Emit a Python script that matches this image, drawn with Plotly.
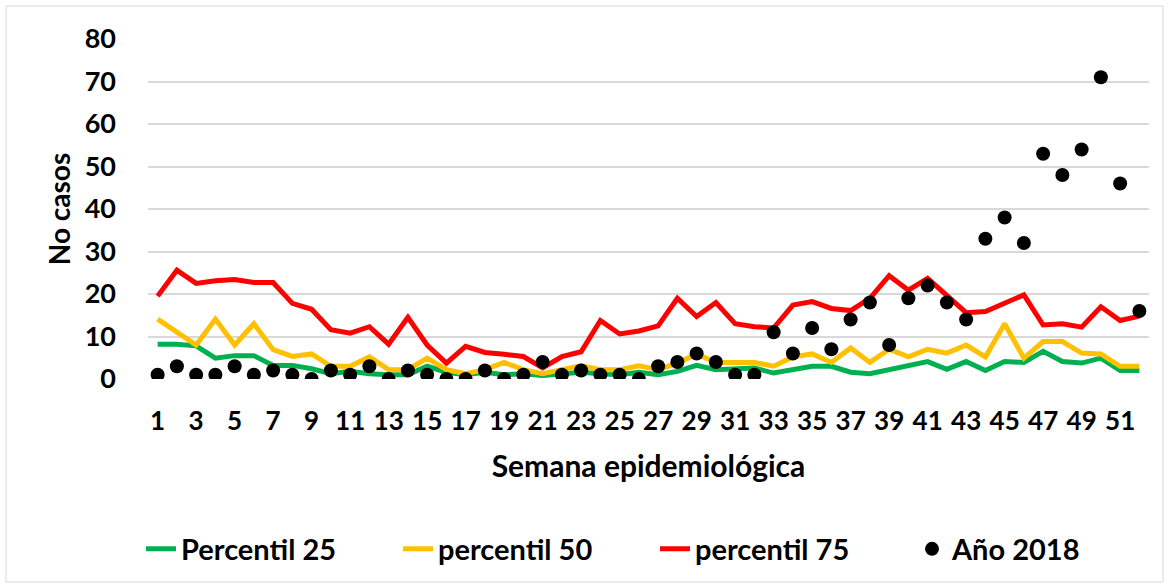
import plotly.graph_objects as go

weeks = [1, 2, 3, 4, 5, 6, 7, 8, 9, 10, 11, 12, 13, 14, 15, 16, 17, 18, 19, 20,
         21, 22, 23, 24, 25, 26, 27, 28, 29, 30, 31, 32, 33, 34, 35, 36, 37, 38, 39, 40,
         41, 42, 43, 44, 45, 46, 47, 48, 49, 50, 51, 52]

p25 = [8.2, 8.2, 7.8, 4.9, 5.5, 5.5, 3.2, 3.2, 2.4, 1.25, 1.8, 1.25, 1.0, 1.0, 3.0, 1.6,
       1.0, 1.6, 1.0, 1.25, 0.8, 1.25, 1.6, 1.25, 1.0, 1.6, 1.0, 1.8, 3.2, 2.2, 2.3, 2.6,
       1.4, 2.3, 3.0, 3.0, 1.6, 1.25, 2.2, 3.1, 4.1, 2.3, 4.1, 2.0, 4.1, 3.9, 6.5, 4.1,
       3.75, 4.9, 2.0, 2.0]

p50 = [14.1, 10.9, 8.0, 14.1, 8.0, 13.0, 6.9, 5.3, 5.9, 3.0, 3.0, 5.2, 2.2, 2.2, 4.9, 2.2,
       1.25, 2.2, 3.9, 2.2, 1.25, 2.2, 3.1, 2.2, 2.2, 3.1, 2.2, 3.75, 5.9, 3.9, 3.9, 3.9,
       3.0, 5.2, 5.9, 3.9, 7.3, 3.9, 7.0, 5.2, 7.0, 6.1, 8.0, 5.2, 13.0, 4.9, 8.8, 8.8,
       6.1, 5.9, 3.0, 3.0]

p75 = [19.5, 25.6, 22.5, 23.1, 23.4, 22.7, 22.7, 17.8, 16.4, 11.6, 10.8, 12.3, 8.2, 14.5,
       8.0, 3.75, 7.7, 6.25, 5.8, 5.3, 2.6, 5.3, 6.4, 13.75, 10.6, 11.3, 12.5, 19.0, 14.7,
       18.0, 13.0, 12.3, 12.0, 17.4, 18.2, 16.6, 16.1, 19.0, 24.3, 20.9, 23.7, 19.8, 15.6,
       15.9, 17.8, 19.8, 12.7, 13.0, 12.2, 17.0, 13.75, 14.8]

cases_2018 = [1, 3, 1, 1, 3, 1, 2, 1, 0, 2, 1, 3, 0, 2, 1, 0, 0, 2, 0, 1, 4, 1, 2, 1, 1, 0,
              3, 4, 6, 4, 1, 1, 11, 6, 12, 7, 14, 18, 8, 19, 22, 18, 14, 33, 38, 32, 53, 48,
              54, 71, 46, 16]

x_ticks = [1, 3, 5, 7, 9, 11, 13, 15, 17, 19, 21, 23, 25, 27, 29, 31, 33, 35, 37, 39,
           41, 43, 45, 47, 49, 51]
y_ticks = [0, 10, 20, 30, 40, 50, 60, 70, 80]

names = ["Percentil 25", "percentil 50", "percentil 75", "Año 2018"]
colors = ["#00B050", "#FFC000", "#FF0000", "#000000"]

FONT = "Lato"
W, H = 1174, 586
ML, MR, MT, MB = 148, 25, 39, 207
PW = W - ML - MR
PH = H - MT - MB


def px_x(px):
    return (px - ML) / PW


def px_y(py):
    return (H - MB - py) / PH


fig = go.Figure()
for vals, name, col in zip([p25, p50, p75], names[:3], colors[:3]):
    fig.add_trace(go.Scatter(x=weeks, y=vals, mode="lines", name=name,
                             line=dict(color=col, width=5)))
fig.add_trace(go.Scatter(x=weeks, y=cases_2018, mode="markers", name=names[3],
                         marker=dict(color=colors[3], size=14, line=dict(width=0))))

fig.update_layout(
    width=W, height=H,
    margin=dict(l=ML, r=MR, t=MT, b=MB, pad=0),
    paper_bgcolor="white", plot_bgcolor="white",
    font=dict(family=FONT, color="black"),
    showlegend=True,
    legend=dict(orientation="h", x=px_x(141), y=px_y(549), xanchor="left", yanchor="middle",
                entrywidth=212, entrywidthmode="pixels", traceorder="normal",
                font=dict(family=FONT, size=29, weight="bold", color="black"),
                bgcolor="rgba(0,0,0,0)"),
    xaxis=dict(range=[0.5, 52.5], tickvals=x_ticks, ticktext=[str(v) for v in x_ticks],
               showgrid=False, zeroline=False, showline=False, ticks="",
               ticklabelstandoff=24,
               tickfont=dict(family=FONT, size=26, weight="bold", color="black"),
               title=dict(text="Semana epidemiológica", standoff=20,
                          font=dict(family=FONT, size=30, weight="bold", color="black"))),
    yaxis=dict(range=[0, 80], tickvals=y_ticks, showgrid=True, gridcolor="#d9d9d9",
               gridwidth=1.5, zeroline=False, showline=False, ticks="",
               ticklabelstandoff=31,
               tickfont=dict(family=FONT, size=27, weight="bold", color="black"),
               title=dict(text="No casos", standoff=5,
                          font=dict(family=FONT, size=28, weight="bold", color="black"))),
    shapes=[dict(type="rect", xref="paper", yref="paper",
                 x0=px_x(6), x1=px_x(1163), y0=px_y(582), y1=px_y(6),
                 line=dict(color="#d9d9d9", width=1), fillcolor="rgba(0,0,0,0)",
                 layer="below")],
)

fig.write_html("out.html", config={"displayModeBar": False},
               post_script="document.body.style.margin='0';document.body.style.overflow='hidden';")
